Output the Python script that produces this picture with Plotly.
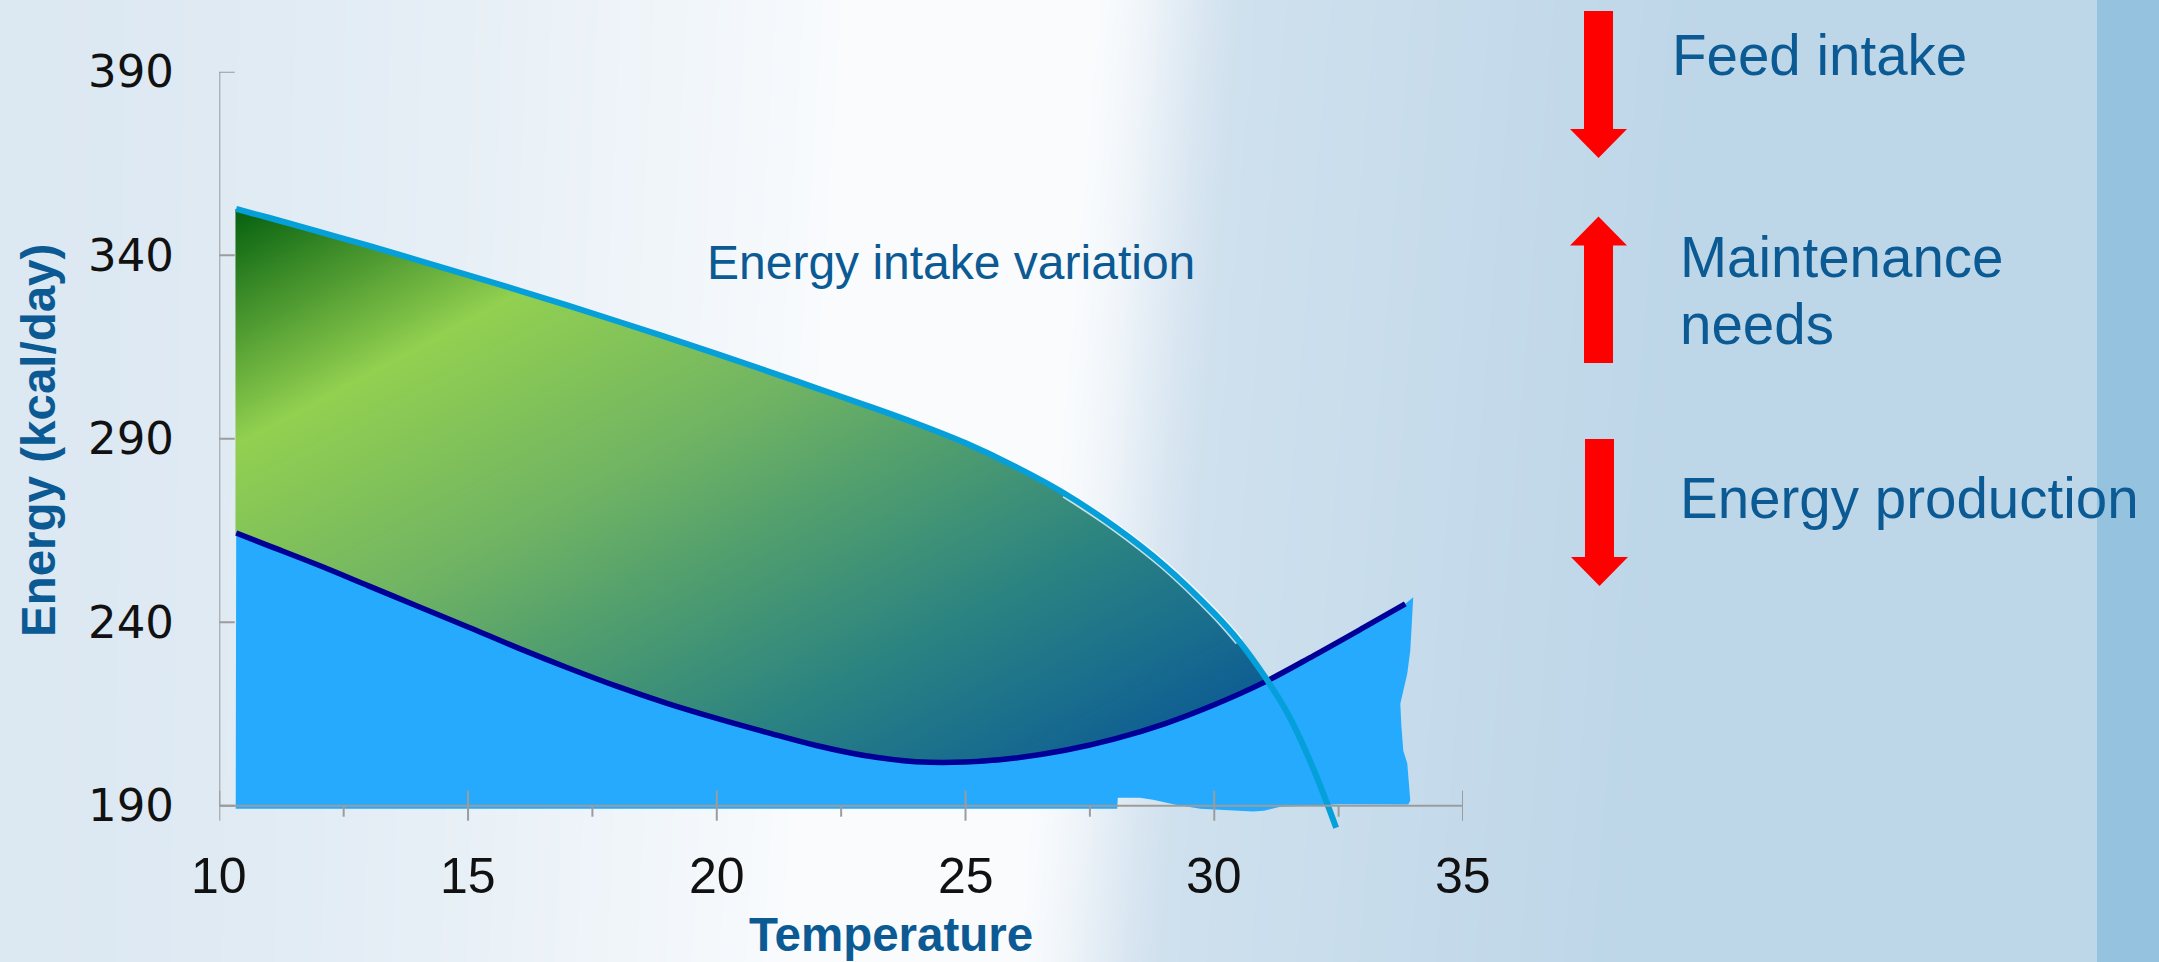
import numpy as np
import plotly.graph_objects as go

W, H = 2159, 962

# ---------------- data ----------------
# Energy intake (kcal/day) versus temperature
temp_intake = [10.34, 11, 12, 13, 14, 15, 16, 17, 18, 19, 20, 21, 22, 23, 24, 25,
               26, 27, 28, 29, 30, 30.5, 31, 31.5, 32, 32.45]
energy_intake = [352.6, 350.2, 346.4, 342.6, 338.6, 334.6, 330.5, 326.3, 322.0, 317.6,
                 313.1, 308.5, 303.8, 299.1, 294.2, 288.8, 282.4, 275.0, 266.0, 255.4,
                 242.4, 234.8, 225.5, 214.5, 199.8, 184.0]

# Energy production (kcal/day) versus temperature
temp_prod = [10.34, 11, 12, 13, 14, 15, 16, 17, 18, 19, 20, 21, 22, 23, 24, 25,
             26, 27, 28, 29, 30, 31, 32, 33, 33.84]
energy_prod = [264.3, 260.8, 255.5, 249.9, 244.3, 238.7, 233.0, 227.6, 222.5, 217.9,
               213.8, 210.0, 206.4, 203.6, 202.0, 201.9, 203.0, 205.1, 208.2, 212.3,
               217.5, 223.6, 230.9, 238.5, 245.0]

# hand-drawn outline closing the production area (right edge, then bottom edge)
prod_outline_T = [34.0, 33.97, 33.94, 33.88, 33.8, 33.74, 33.76, 33.8, 33.88, 33.92,
                  33.94, 33.9, 32.5, 31.33, 31.0, 30.78, 30.3, 29.72, 29.2, 28.77,
                  28.5, 28.06, 28.05, 10.33]
prod_outline_E = [246.8, 238.0, 232.3, 226.0, 221.4, 217.8, 212.0, 205.0, 201.5, 196.0,
                  191.4, 190.3, 190.4, 189.7, 188.6, 188.4, 188.8, 189.2, 190.3, 191.6,
                  192.2, 192.2, 189.2, 189.2]

x_ticks = [10, 15, 20, 25, 30, 35]
x_minor = [12.5, 17.5, 22.5, 27.5, 32.5]
y_ticks = [190, 240, 290, 340, 390]
y_minor = [215, 265, 315, 365]

x_title = "Temperature"
y_title = "Energy (kcal/day)"
curve_label = "Energy intake variation"

# ---------------- layout geometry (pixels) ----------------
FONT = "Liberation Sans, Arial, sans-serif"
TICK_FONT_Y = "DejaVu Sans, Verdana, sans-serif"
TXT_BLUE = "#0b5a94"
AX_GREY = "#9c9c9c"

PX_X10, PX_X35 = 219.3, 1463.0          # x = 10 and x = 35
PX_Y390, PX_PER_E = 71.7, 3.67           # y = 390, pixels per kcal
X_RANGE = [10, 35]
Y_RANGE = [182, 390]
PX_YBOT = PX_Y390 + (Y_RANGE[1] - Y_RANGE[0]) * PX_PER_E

x_dom = [PX_X10 / W, PX_X35 / W]
y_dom = [1 - PX_YBOT / H, 1 - PX_Y390 / H]


def t2px(t):
    return PX_X10 + (np.asarray(t) - 10) * (PX_X35 - PX_X10) / 25.0


def e2px(e):
    return PX_Y390 + (390 - np.asarray(e)) * PX_PER_E


def paper(px, py):
    return px / W, 1 - py / H


def smoothstep(v):
    v = np.clip(v, 0, 1)
    return v * v * (3 - 2 * v)


# ---------------- background wash ----------------
bx = np.linspace(0, W, 180)
by = np.linspace(0, H, 72)
BX, BY = np.meshgrid(bx, by)
centre = 1090 - 80 * (BY / H)
left_end = 0.78 * centre
tl = np.clip(BX / left_end, 0, 1)
left_part = 0.5 * (1 - tl ** 1.6)
right_part = 0.72 * smoothstep((BX - centre) / 170.0) + 0.28 * np.clip((BX - centre - 170) / 450.0, 0, 1)
bz = np.where(BX < centre, left_part, right_part)

fig = go.Figure()
fig.add_trace(go.Heatmap(
    x=bx, y=by, z=bz, zmin=0, zmax=1, zsmooth="best", showscale=False,
    colorscale=[[0, "#f9fbfd"], [0.5, "#dce8f2"], [1, "#bdd6e8"]],
    hoverinfo="skip", xaxis="x", yaxis="y"))

# ---------------- production area ----------------
fig.add_trace(go.Scatter(
    x=temp_prod + prod_outline_T, y=energy_prod + prod_outline_E,
    mode="lines", fill="toself", fillcolor="#25aafd", line=dict(width=0, color="#25aafd"),
    hoverinfo="skip", xaxis="x2", yaxis="y2"))

# ---------------- gradient band between the two curves ----------------
tg = np.arange(10.34, 31.3, 0.03)
eg = np.arange(199.5, 353.6, 0.3)
TT, EE = np.meshgrid(tg, eg)
lo = np.interp(TT, temp_prod, energy_prod)
hi = np.interp(TT, temp_intake, energy_intake)
inside = (EE >= lo) & (EE <= hi)
gx, gy = t2px(TT), e2px(EE)
dvec = np.array([150.0, 280.0]) / np.hypot(150.0, 280.0)
s = ((gx - 236) * dvec[0] + (gy - 210) * dvec[1]) / 900.0
gz = np.where(inside, np.round(np.clip(s, 0, 1), 3), np.nan)
fig.add_trace(go.Heatmap(
    x=tg, y=eg, z=gz, zmin=0, zmax=1, zsmooth=False, showscale=False,
    colorscale=[[0, "#05600f"], [0.23, "#92d050"], [0.45, "#72b562"], [0.62, "#4c9b70"],
                [0.78, "#2b8381"], [0.9, "#1b708c"], [1, "#0f5f92"]],
    hoverinfo="skip", xaxis="x3", yaxis="y3"))

# ---------------- curves ----------------
fig.add_trace(go.Scatter(
    x=temp_prod, y=energy_prod, mode="lines",
    line=dict(color="#000096", width=5.5, shape="spline", smoothing=1),
    hoverinfo="skip", xaxis="x4", yaxis="y4"))
# pale rim along the steep part of the intake curve
rim = [i for i, t in enumerate(temp_intake) if 27 <= t <= 30.5]
fig.add_trace(go.Scatter(
    x=[temp_intake[i] for i in rim], y=[energy_intake[i] for i in rim], mode="lines",
    line=dict(color="rgba(255,255,255,0.75)", width=9, shape="spline", smoothing=1),
    hoverinfo="skip", xaxis="x4", yaxis="y4"))
fig.add_trace(go.Scatter(
    x=temp_intake, y=energy_intake, mode="lines",
    line=dict(color="#05a0da", width=6, shape="spline", smoothing=1),
    hoverinfo="skip", xaxis="x4", yaxis="y4"))

# ---------------- axes (lines and ticks) ----------------
shapes = []
ax_line = dict(color=AX_GREY, width=2)
shapes.append(dict(type="line", xref="x2", yref="y2", x0=10, x1=10, y0=190, y1=390,
                   line=ax_line, layer="above"))
shapes.append(dict(type="line", xref="x2", yref="y2", x0=10, x1=35, y0=190, y1=190,
                   line=ax_line, layer="above"))
for v in y_ticks:
    shapes.append(dict(type="line", xref="x2", yref="y2", xsizemode="pixel", xanchor=10,
                       x0=-15.5, x1=15.5, y0=v, y1=v, line=ax_line, layer="above"))
for v in y_minor:
    shapes.append(dict(type="line", xref="x2", yref="y2", xsizemode="pixel", xanchor=10,
                       x0=-12, x1=0, y0=v, y1=v, line=ax_line, layer="above"))
for v in x_ticks:
    shapes.append(dict(type="line", xref="x2", yref="y2", ysizemode="pixel", yanchor=190,
                       y0=-15, y1=15, x0=v, x1=v, line=ax_line, layer="above"))
for v in x_minor:
    shapes.append(dict(type="line", xref="x2", yref="y2", ysizemode="pixel", yanchor=190,
                       y0=-11, y1=0, x0=v, x1=v, line=ax_line, layer="above"))

# right-hand band
shapes.append(dict(type="rect", xref="paper", yref="paper", x0=2097 / W, x1=1, y0=0, y1=1,
                   fillcolor="#95c2df", line=dict(width=0), layer="above"))


# ---------------- red block arrows ----------------
def block_arrow(cx, tail, tip, shaft=29, head=57, head_len=29):
    sgn = 1 if tip > tail else -1
    base = tip - sgn * head_len
    pts = [(cx - shaft / 2, tail), (cx + shaft / 2, tail), (cx + shaft / 2, base),
           (cx + head / 2, base), (cx, tip), (cx - head / 2, base), (cx - shaft / 2, base)]
    coords = [paper(px, py) for px, py in pts]
    return "M " + " L ".join(f"{x:.5f},{y:.5f}" for x, y in coords) + " Z"


arrow_px = [(1598.5, 11, 158), (1598.5, 363, 216.5), (1599.5, 439, 586)]
for cx, tail, tip in arrow_px:
    shapes.append(dict(type="path", xref="paper", yref="paper", path=block_arrow(cx, tail, tip),
                       fillcolor="#ff0000", line=dict(width=0), layer="above"))

# ---------------- text ----------------
ann = []
for v in x_ticks:
    ann.append(dict(x=v, y=190, xref="x2", yref="y2", text=str(v), showarrow=False,
                    xanchor="center", yanchor="middle", yshift=-70,
                    font=dict(family=FONT, size=50, color="#111111")))
for v in y_ticks:
    ann.append(dict(x=10, y=v, xref="x2", yref="y2", text=str(v), showarrow=False,
                    xanchor="right", yanchor="middle", xshift=-43,
                    font=dict(family=TICK_FONT_Y, size=45, color="#111111")))

px_, py_ = paper(38, 441)
ann.append(dict(x=px_, y=py_, xref="paper", yref="paper", text=f"<b>{y_title}</b>",
                showarrow=False, textangle=-90, xanchor="center", yanchor="middle",
                font=dict(family=FONT, size=47.5, color=TXT_BLUE)))
px_, py_ = paper(891, 934)
ann.append(dict(x=px_, y=py_, xref="paper", yref="paper", text=f"<b>{x_title}</b>",
                showarrow=False, xanchor="center", yanchor="middle",
                font=dict(family=FONT, size=47.5, color=TXT_BLUE)))
px_, py_ = paper(705, 262)
ann.append(dict(x=px_, y=py_, xref="paper", yref="paper", text=curve_label,
                showarrow=False, xanchor="left", yanchor="middle",
                font=dict(family=FONT, size=48, color=TXT_BLUE)))

effect_lines = [("Feed intake", 1670, 55), ("Maintenance", 1678, 257),
                ("needs", 1678, 324), ("Energy production", 1678, 499)]
for text, x0, yc in effect_lines:
    px_, py_ = paper(x0, yc)
    ann.append(dict(x=px_, y=py_, xref="paper", yref="paper", text=text, showarrow=False,
                    xanchor="left", yanchor="middle",
                    font=dict(family=FONT, size=56.5, color=TXT_BLUE)))

hidden = dict(visible=False, showgrid=False, zeroline=False, fixedrange=True)
fig.update_layout(
    width=W, height=H, margin=dict(l=0, r=0, t=0, b=0),
    paper_bgcolor="#e6eef6", plot_bgcolor="rgba(0,0,0,0)", showlegend=False,
    xaxis=dict(domain=[0, 1], range=[0, W], **hidden),
    yaxis=dict(domain=[0, 1], range=[H, 0], **hidden),
    xaxis2=dict(domain=x_dom, range=X_RANGE, anchor="y2", **hidden),
    yaxis2=dict(domain=y_dom, range=Y_RANGE, anchor="x2", **hidden),
    xaxis3=dict(range=X_RANGE, overlaying="x2", anchor="y3", **hidden),
    yaxis3=dict(range=Y_RANGE, overlaying="y2", anchor="x3", **hidden),
    xaxis4=dict(range=X_RANGE, overlaying="x2", anchor="y4", **hidden),
    yaxis4=dict(range=Y_RANGE, overlaying="y2", anchor="x4", **hidden),
    shapes=shapes, annotations=ann,
)

fig.write_html("out.html")
